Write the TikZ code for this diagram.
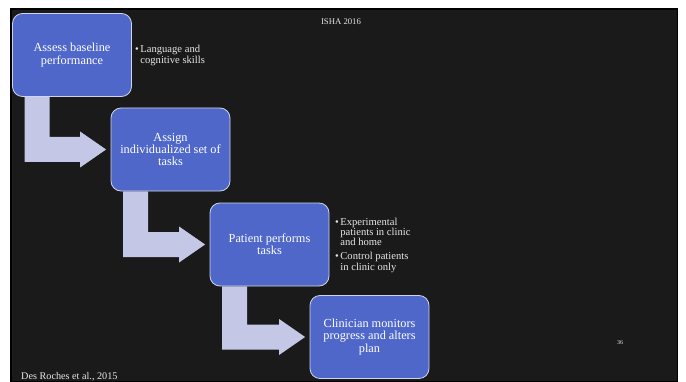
\documentclass[tikz,border=0pt]{standalone}
\usepackage{fontspec}
\setmainfont{Liberation Serif}
\usetikzlibrary{calc}
\definecolor{boxblue}{HTML}{4F67C9}
\definecolor{boxedge}{HTML}{D0D4E6}
\definecolor{arrowfill}{HTML}{C4C7E6}
\definecolor{slidebg}{HTML}{1A1A1A}
\definecolor{notewhite}{HTML}{E6E6E6}
\pgfdeclarelayer{back}
\pgfsetlayers{back,main}
\newcommand\bentarrow[2]{%
  \begin{pgfonlayer}{back}
  \fill[arrowfill] let \p1=(#1.south), \p2=(#2.west) in
    (\x1-47.5pt,\y1) -- (\x1-47.5pt,\y2-12.5pt) -- (\x2-30.5pt,\y2-12.5pt)
    -- (\x2-30.5pt,\y2-18pt) -- (\x2-4.5pt,\y2) -- (\x2-30.5pt,\y2+18pt)
    -- (\x2-30.5pt,\y2+12.5pt) -- (\x1-22.5pt,\y2+12.5pt) -- (\x1-22.5pt,\y1) -- cycle;
  \end{pgfonlayer}}
\begin{document}
\begin{tikzpicture}[x=1pt,y=1pt,
  stepbox/.style={draw=boxedge, line width=0.8pt, fill=boxblue, rounded corners=10pt,
    minimum width=119pt, minimum height=83pt, align=center, text=white,
    font=\fontsize{12.3}{12.3}\selectfont, inner sep=2pt},
  note/.style={text=notewhite, font=\fontsize{10.6}{10.3}\selectfont, inner sep=0pt,
    anchor=base west, align=left},
  smalltext/.style={text=notewhite, inner sep=0pt}]
\useasboundingbox (0,0) rectangle (686,381);
\begin{pgfonlayer}{back}
\fill[white] (0,0) rectangle (686,381);
\draw[fill=slidebg, draw=black, line width=1.5pt] (10.75,-1) rectangle (677.25,372);
\end{pgfonlayer}
\node[stepbox] (b1) at (72,326) {Assess baseline\\performance};
\node[stepbox] (b2) at (170.5,231.5) {Assign\\individualized set of\\tasks};
\node[stepbox] (b3) at (269.5,136.5) {Patient performs\\tasks};
\node[stepbox] (b4) at (369.5,44) {Clinician monitors\\progress and alters\\plan};
\bentarrow{b1}{b2}
\bentarrow{b2}{b3}
\bentarrow{b3}{b4}
\node[note] (n1) at (135,328) {\begin{tabular}[t]{@{}l@{\hspace{1.5pt}}l@{}}\textbullet & Language and\\ & cognitive skills\end{tabular}};
\node[note] (n2) at (335,156) {\begin{tabular}[t]{@{}l@{\hspace{1.5pt}}l@{}}\textbullet & Experimental\\ & patients in clinic\\ & and home\\[3.6pt] \textbullet & Control patients\\ & in clinic only\end{tabular}};
\node[smalltext, anchor=base, font=\fontsize{8.7}{9}\selectfont] (hdr) at (341,356) {ISHA 2016};
\node[smalltext, anchor=base, font=\fontsize{6}{6}\selectfont] (pg) at (620,37) {36};
\node[smalltext, anchor=base west, font=\fontsize{10.2}{10.2}\selectfont] (cite) at (21,2) {Des Roches et al., 2015};
\end{tikzpicture}
\end{document}
